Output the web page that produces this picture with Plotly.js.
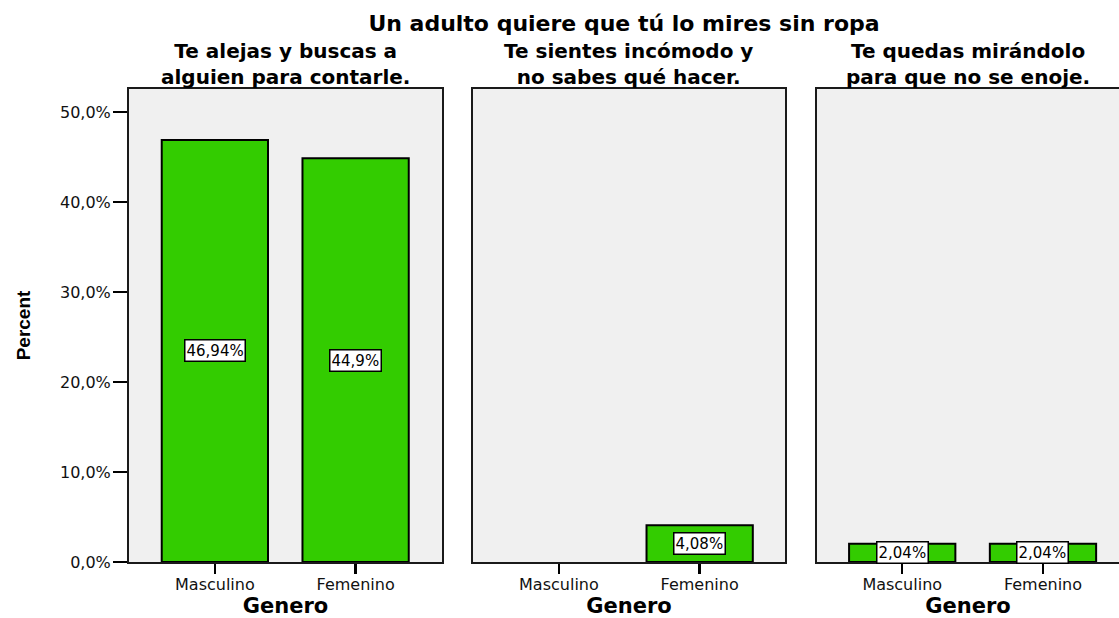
<!DOCTYPE html>
<html>
<head>
<meta charset="utf-8">
<script src="https://cdn.plot.ly/plotly-3.0.1.min.js"></script>
<style>html,body{margin:0;padding:0;background:#fff;}#chart{width:1119px;height:618px;}</style>
</head>
<body>
<div id="chart"></div>
<script>
const categories = ['Masculino', 'Femenino'];
const panelTitles = [
  ['Te alejas y buscas a', 'alguien para contarle.'],
  ['Te sientes incómodo y', 'no sabes qué hacer.'],
  ['Te quedas mirándolo', 'para que no se enoje.']
];
const masculino = [46.94, 0, 2.04];
const femenino = [44.9, 4.08, 2.04];
const yTickVals = [0, 10, 20, 30, 40, 50];
const yTickText = ['0,0%', '10,0%', '20,0%', '30,0%', '40,0%', '50,0%'];
const mainTitle = 'Un adulto quiere que tú lo mires sin ropa';
const xTitle = 'Genero';
const yTitle = 'Percent';

const FONT = 'DejaVu Sans, Liberation Sans, Arial, sans-serif';
const BAR = '#33cc00';
const domains = [[0, 0.3162], [0.3475, 0.6626], [0.695, 1]];
const xRanges = [[-0.61, 1.614], [-0.61, 1.606], [-0.605, 1.54]];
const yRange = [0, 52.6];

const data = [];
const annotations = [];
const layout = {
  width: 1119, height: 618,
  margin: {l: 129, r: 0, t: 89, b: 56, pad: 0},
  paper_bgcolor: '#ffffff',
  plot_bgcolor: '#f0f0f0',
  showlegend: false,
  bargap: 0.25,
  title: {
    text: mainTitle,
    font: {family: FONT, size: 22, color: '#000', weight: 'bold'},
    x: 0.5, xref: 'paper', xanchor: 'center',
    y: 1 - 23 / 618, yref: 'container', yanchor: 'middle'
  },
  font: {family: FONT, color: '#000'}
};

for (let i = 0; i < 3; i++) {
  const sfx = i === 0 ? '' : String(i + 1);
  const vals = [masculino[i], femenino[i]];
  data.push({
    type: 'bar',
    x: categories,
    y: vals,
    xaxis: 'x' + sfx,
    yaxis: 'y' + sfx,
    width: 0.755,
    marker: {color: BAR, line: {color: '#000', width: vals.map(v => v > 0 ? 2 : 0)}},
    hoverinfo: 'x+y'
  });
  layout['xaxis' + sfx] = {
    domain: domains[i],
    anchor: 'y' + sfx,
    type: 'category',
    categoryorder: 'array',
    categoryarray: categories,
    range: xRanges[i],
    showline: true, mirror: true, linecolor: '#1a1a1a', linewidth: 2,
    ticks: 'outside', ticklen: 10, tickwidth: 2.5, tickcolor: '#000',
    ticklabelstandoff: -3,
    tickfont: {family: FONT, size: 16, color: '#111'},
    showgrid: false, zeroline: false, fixedrange: true,
    automargin: false,
    title: {text: xTitle, font: {family: FONT, size: 21, color: '#000', weight: 'bold'}, standoff: 6}
  };
  layout['yaxis' + sfx] = {
    domain: [0, 1],
    anchor: 'x' + sfx,
    range: yRange,
    showline: true, mirror: i < 2, linecolor: '#1a1a1a', linewidth: 2,
    showgrid: false, zeroline: false, fixedrange: true,
    tickmode: 'array', tickvals: yTickVals, ticktext: yTickText,
    ticks: i === 0 ? 'outside' : '',
    ticklen: 14, tickwidth: 2, tickcolor: '#000',
    ticklabelstandoff: -1,
    showticklabels: i === 0,
    tickfont: {family: FONT, size: 16, color: '#111'}
  };
  if (i > 0) layout['yaxis' + sfx].matches = 'y';
  if (i === 0) {
    layout.yaxis.automargin = true;
    layout.yaxis.title = {
      text: yTitle,
      font: {family: 'Liberation Sans, Arial, sans-serif', size: 19, color: '#000', weight: 'bold'},
      standoff: 24
    };
  }
  const cx = (domains[i][0] + domains[i][1]) / 2;
  annotations.push({
    text: panelTitles[i].join('<br>'), xref: 'paper', yref: 'paper',
    x: cx, y: 1, yshift: -2,
    xanchor: 'center', yanchor: 'bottom', showarrow: false,
    font: {family: FONT, size: 20, color: '#000', weight: 'bold'}
  });
  vals.forEach((v, j) => {
    if (v > 0) {
      annotations.push({
        text: String(v).replace('.', ',') + '%',
        xref: 'x' + sfx, yref: 'y' + sfx,
        x: categories[j], y: v / 2,
        xanchor: 'center', yanchor: 'middle', showarrow: false,
        bgcolor: '#ffffff', bordercolor: '#000', borderwidth: 1.5, borderpad: 1,
        font: {family: FONT, size: 15, color: '#000'}
      });
    }
  });
}
layout.annotations = annotations;

Plotly.newPlot('chart', data, layout, {displayModeBar: false, staticPlot: true});
</script>
</body>
</html>
